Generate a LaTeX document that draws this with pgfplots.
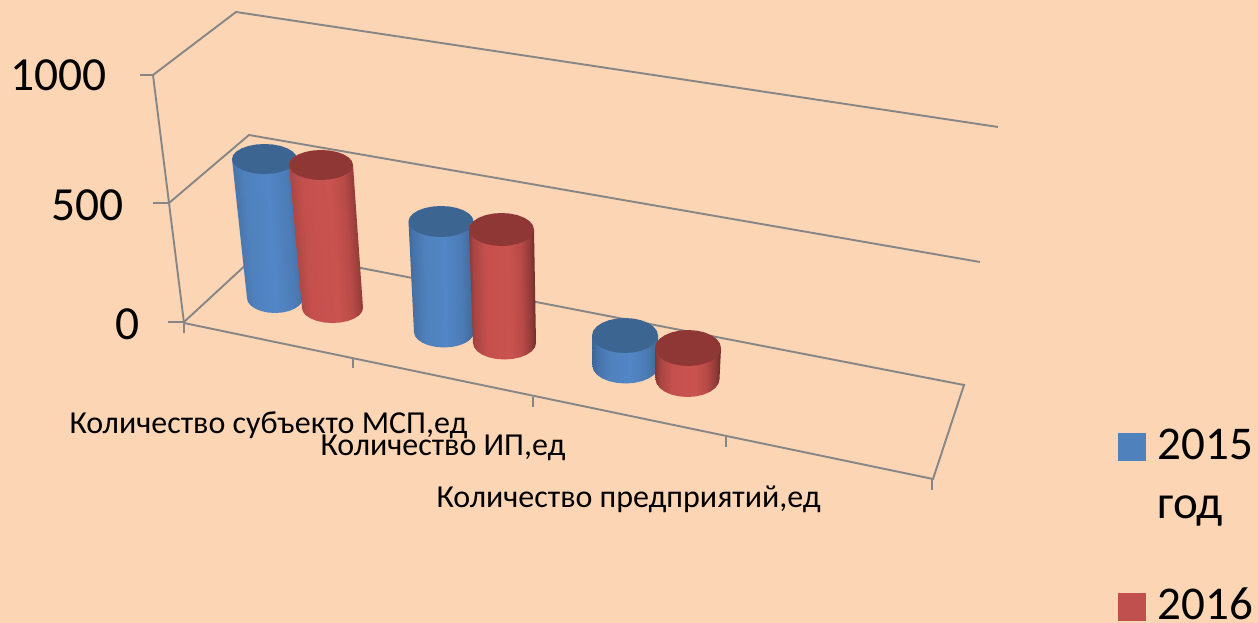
\documentclass[border=0pt]{standalone}
\usepackage{fontspec}
\setmainfont{Carlito}
\usepackage{pgfplots}
\usepackage{pgfplotstable}
\pgfplotsset{compat=1.18}

\definecolor{bg}{HTML}{FCD5B5}
\definecolor{wall}{HTML}{868686}
\definecolor{capblue}{HTML}{3D6592}
\definecolor{capred}{HTML}{8E3735}
\definecolor{keyblue}{HTML}{4F81BD}
\definecolor{keyred}{HTML}{C0504D}

\definecolor{ba}{HTML}{3A6597}
\definecolor{bb}{HTML}{4672A8}
\definecolor{bc}{HTML}{4F81BD}
\definecolor{bd}{HTML}{5386C6}
\definecolor{be}{HTML}{4C7CB6}
\definecolor{bf}{HTML}{426E9F}
\definecolor{bg2}{HTML}{3A618E}
\definecolor{ra}{HTML}{843532}
\definecolor{rb}{HTML}{A84542}
\definecolor{rc}{HTML}{C4504D}
\definecolor{rd}{HTML}{C9534F}
\definecolor{re}{HTML}{B84A47}
\definecolor{rf}{HTML}{8F3A37}
\definecolor{rg}{HTML}{6A2826}

% the visible part of a shading is 25bp..75bp
\pgfdeclarehorizontalshading{cylblue}{100bp}{
  color(0bp)=(ba); color(25bp)=(ba); color(29bp)=(bb);
  color(38bp)=(bc); color(53bp)=(bd); color(65bp)=(be);
  color(72bp)=(bf); color(75bp)=(bg2); color(100bp)=(bg2)}
\pgfdeclarehorizontalshading{cylred}{100bp}{
  color(0bp)=(ra); color(25bp)=(ra); color(29bp)=(rb);
  color(38bp)=(rc); color(55bp)=(rd); color(64bp)=(re);
  color(71bp)=(rf); color(75bp)=(rg); color(100bp)=(rg)}

% unit circle, 15 degree steps
\pgfplotstableread{
u v
1 0
0.966 0.259
0.866 0.5
0.707 0.707
0.5 0.866
0.259 0.966
0 1
-0.259 0.966
-0.5 0.866
-0.707 0.707
-0.866 0.5
-0.966 0.259
-1 0
-0.966 -0.259
-0.866 -0.5
-0.707 -0.707
-0.5 -0.866
-0.259 -0.966
0 -1
0.259 -0.966
0.5 -0.866
0.707 -0.707
0.866 -0.5
0.966 -0.259
1 0
}\capshape

% side of a cylinder: b=0 upper rim, b=1 lower rim
\pgfplotstableread{
u v b
-1 0 0
-1 0 1
-0.966 0.259 1
-0.866 0.5 1
-0.707 0.707 1
-0.5 0.866 1
-0.259 0.966 1
0 1 1
0.259 0.966 1
0.5 0.866 1
0.707 0.707 1
0.866 0.5 1
0.966 0.259 1
1 0 1
1 0 0
}\sideshape

% #1 colour, #2 #3 centre of top, #4 x radius of top, #5 y radius,
% #6 #7 centre of bottom, #8 x radius of bottom, #9 tilt of the shading
\newcommand{\cyl}[9]{
  \addplot[draw=none, shade, shading=cyl#1, shading angle=#9] table[
    x expr={(1-\thisrow{b})*#2+\thisrow{b}*#6+\thisrow{u}*((1-\thisrow{b})*#4+\thisrow{b}*#8)},
    y expr={(1-\thisrow{b})*#3+\thisrow{b}*#7+\thisrow{v}*#5}] {\sideshape} -- cycle;
  \addplot[draw=none, fill=cap#1] table[
    x expr={#2+\thisrow{u}*#4},
    y expr={#3+\thisrow{v}*#5}] {\capshape} -- cycle;
}

\begin{document}
\begin{tikzpicture}
\begin{axis}[
    scale only axis,
    width=1258pt, height=623pt,
    xmin=0, xmax=1258,
    ymin=0, ymax=623,
    y dir=reverse,
    hide axis,
    clip=false,
    every node/.append style={inner sep=0pt, outer sep=0pt},
  ]
  \addplot[draw=none, fill=bg] coordinates {(0,0) (1258,0) (1258,623) (0,623)} -- cycle;

  % walls and floor
  \addplot[wall, line width=1.9pt] coordinates {(140,75) (153,75) (236,12) (998,127)};
  \addplot[wall, line width=1.9pt] coordinates {(153,203) (169,203) (249,135) (980,262)};
  \addplot[wall, line width=1.9pt] coordinates {(168,322) (184,322) (263,249) (964,385) (933,479) (184,323)};
  \addplot[wall, line width=1.9pt] coordinates {(153,75) (184,323) (184,333)};
  \addplot[wall, line width=1.9pt] coordinates {(353,358) (353,368)};
  \addplot[wall, line width=1.9pt] coordinates {(533,397) (533,407)};
  \addplot[wall, line width=1.9pt] coordinates {(726,437) (726,447)};
  \addplot[wall, line width=1.9pt] coordinates {(932,479) (932,490)};

  % cylinders
  \cyl{blue}{264.5}{159}{32.5}{15}{275}{298}{28}{4}
  \cyl{red}{321}{165}{32}{15}{332.5}{308}{30.5}{4}
  \cyl{blue}{441}{221.5}{32.5}{15.5}{444}{332}{30}{1}
  \cyl{red}{501.5}{229.5}{32.5}{16.5}{504.5}{343}{31.5}{1}
  \cyl{blue}{625}{335.5}{33}{17.5}{625.5}{366}{33}{0}
  \cyl{red}{688}{348}{33}{18}{687.5}{379}{32}{0}

  % legend keys
  \addplot[only marks, mark=square*, mark size=13.5pt, color=keyblue] coordinates {(1131.5,446.5)};
  \addplot[only marks, mark=square*, mark size=13.5pt, color=keyred] coordinates {(1131.5,606.5)};

  % text
  \node[anchor=base east, font=\fontsize{47.5pt}{47.5pt}\selectfont] at (110,91) {1000};
  \node[anchor=base east, font=\fontsize{47.5pt}{47.5pt}\selectfont] at (127,220) {500};
  \node[anchor=base east, font=\fontsize{47.5pt}{47.5pt}\selectfont] at (143,339) {0};
  \node[anchor=base west, font=\fontsize{32pt}{32pt}\selectfont] at (66,433) {Количество субъекто МСП,ед};
  \node[anchor=base west, font=\fontsize{32pt}{32pt}\selectfont] at (317,455) {Количество ИП,ед};
  \node[anchor=base west, font=\fontsize{32pt}{32pt}\selectfont] at (433,507) {Количество предприятий,ед};
  \node[anchor=base west, font=\fontsize{47pt}{47pt}\selectfont] at (1154,459) {2015};
  \node[anchor=base west, font=\fontsize{47pt}{47pt}\selectfont] at (1154,518) {год};
  \node[anchor=base west, font=\fontsize{47pt}{47pt}\selectfont] at (1154,619) {2016};
\end{axis}
\end{tikzpicture}
\end{document}
